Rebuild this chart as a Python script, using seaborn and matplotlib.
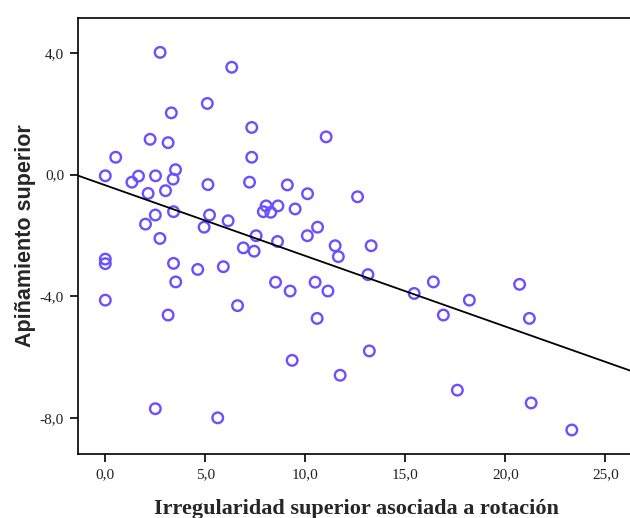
import pandas as pd
import matplotlib
matplotlib.use('Agg')
import matplotlib.pyplot as plt
import seaborn as sns

# valores
irregularidad = [2.74, 6.32, 5.10, 3.30, 7.32, 2.24, 3.14, 11.04, 0.52, 7.32,
                 0.0, 1.33, 1.66, 2.51, 3.51, 3.39, 5.13, 7.21, 9.10, 10.11,
                 12.61, 2.14, 3.01, 2.50, 3.41, 2.01, 2.73, 5.21, 4.94, 6.14,
                 7.90, 8.04, 8.27, 8.63, 9.49, 7.54, 6.90, 7.44, 8.61, 10.10,
                 10.61, 11.49, 11.65, 13.29, 0.0, 0.0, 3.41, 4.62, 5.90, 3.52,
                 8.51, 9.24, 10.49, 11.13, 13.13, 0.0, 3.14, 6.61, 10.59, 9.34,
                 2.50, 5.62, 13.20, 11.74, 16.40, 15.44, 18.20, 16.90, 20.71, 21.20,
                 17.60, 21.29, 23.32]
apinamiento = [4.02, 3.53, 2.34, 2.03, 1.55, 1.16, 1.05, 1.24, 0.57, 0.57,
               -0.04, -0.25, -0.05, -0.04, 0.16, -0.15, -0.33, -0.25, -0.34, -0.63,
               -0.73, -0.62, -0.53, -1.33, -1.22, -1.63, -2.10, -1.33, -1.73, -1.52,
               -1.22, -1.03, -1.24, -1.03, -1.13, -2.01, -2.41, -2.52, -2.20, -2.01,
               -1.73, -2.34, -2.70, -2.34, -2.78, -2.93, -2.92, -3.12, -3.03, -3.53,
               -3.54, -3.83, -3.54, -3.83, -3.29, -4.13, -4.62, -4.31, -4.73, -6.11,
               -7.70, -8.00, -5.80, -6.60, -3.53, -3.91, -4.13, -4.62, -3.61, -4.73,
               -7.09, -7.51, -8.40]

xticks = [0, 5, 10, 15, 20, 25]
yticks = [4, 0, -4, -8]

df = pd.DataFrame({'irr': irregularidad, 'api': apinamiento})

sns.set_style('white')
plt.rcParams['font.family'] = ['Liberation Serif', 'DejaVu Serif']

fig = plt.figure(figsize=(6.3, 5.18), dpi=100)
ax = fig.add_axes([78 / 630, 64 / 518, 556 / 630, 436 / 518])
ax.set_xlim(-1.365, 26.43)
ax.set_ylim(-9.19, 5.15)

sns.scatterplot(data=df, x='irr', y='api', ax=ax, marker='o', s=58,
                facecolors='none', edgecolor='#6A50FF', linewidth=1.7)
sns.regplot(data=df, x='irr', y='api', ax=ax, scatter=False, ci=None,
            truncate=False, color='black', line_kws={'linewidth': 1.3})

ax.set_xlim(-1.365, 26.43)
ax.set_ylim(-9.19, 5.15)
ax.set_xticks(xticks)
ax.set_xticklabels([f'{v:.1f}'.replace('.', ',') for v in xticks])
ax.set_yticks(yticks)
ax.set_yticklabels([f'{v:.1f}'.replace('.', ',') for v in yticks])
ax.tick_params(direction='out', length=6, width=1.2, labelsize=11, color='black',
               labelcolor='#222222', pad=4, left=True, bottom=True)
for side in ['left', 'bottom', 'top']:
    ax.spines[side].set_color('black')
    ax.spines[side].set_linewidth(1.2)
ax.spines['right'].set_visible(False)

ax.set_xlabel('Irregularidad superior asociada a rotación', fontsize=16,
              fontweight='bold', family=['Liberation Serif'], labelpad=13)
ax.set_ylabel('Apiñamiento superior', fontsize=15.5, fontweight='bold',
              family=['Liberation Sans'], labelpad=3)

plt.savefig('out.png', dpi=100)
